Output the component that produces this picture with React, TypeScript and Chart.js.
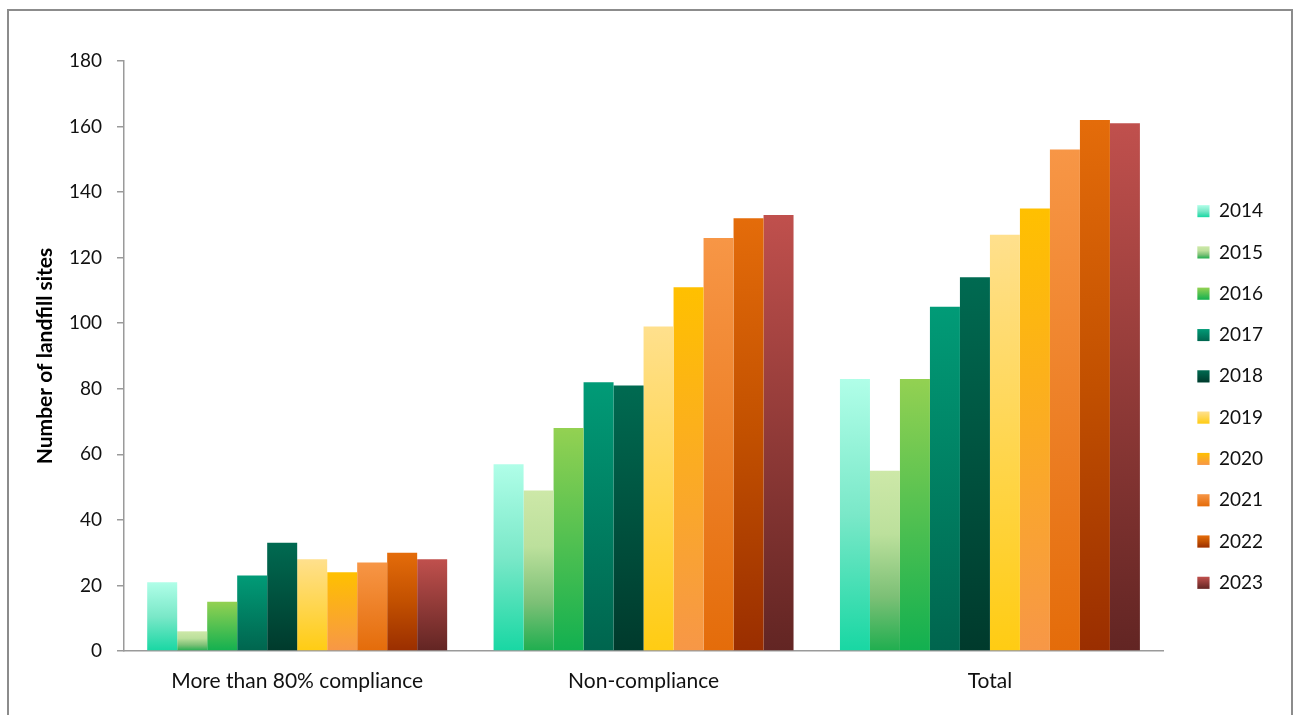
import React, { useEffect, useRef } from "react";
import { Chart, registerables } from "chart.js";

Chart.register(...registerables);

const categories = ["More than 80% compliance", "Non-compliance", "Total"];
const years = ["2014", "2015", "2016", "2017", "2018", "2019", "2020", "2021", "2022", "2023"];
const values2014 = [21, 57, 83];
const values2015 = [6, 49, 55];
const values2016 = [15, 68, 83];
const values2017 = [23, 82, 105];
const values2018 = [33, 81, 114];
const values2019 = [28, 99, 127];
const values2020 = [24, 111, 135];
const values2021 = [27, 126, 153];
const values2022 = [30, 132, 162];
const values2023 = [28, 133, 161];
const seriesValues = [
  values2014, values2015, values2016, values2017, values2018,
  values2019, values2020, values2021, values2022, values2023,
];
const yTickValues = [0, 20, 40, 60, 80, 100, 120, 140, 160, 180];

type Stop = [number, string];
const gradients: Stop[][] = [
  [[0, "#B0FEE8"], [0.5, "#7AE8C8"], [1, "#18D7A3"]],
  [[0, "#CDE8A8"], [0.35, "#BCE09C"], [0.7, "#7CC076"], [1, "#1FAE4F"]],
  [[0, "#93D152"], [1, "#12B050"]],
  [[0, "#019B77"], [1, "#00654E"]],
  [[0, "#006A51"], [1, "#003A2C"]],
  [[0, "#FFE08D"], [1, "#FFCC13"]],
  [[0, "#FFC000"], [1, "#F79747"]],
  [[0, "#F79646"], [1, "#E46C0A"]],
  [[0, "#E46C0A"], [0.5, "#C25000"], [1, "#9A2E00"]],
  [[0, "#C0504D"], [1, "#622523"]],
];

const FONT = "Lato, 'Open Sans', 'DejaVu Sans', sans-serif";
const LEGEND_FONT_SIZE = 19;
const BOX = 12;

const makeBg = (stops: Stop[]) => (ctx: any) => {
  const chart = ctx.chart;
  const y = chart.scales && chart.scales.y;
  if (ctx.type !== "data" || !y) return stops[stops.length - 1][1];
  const top = y.getPixelForValue(ctx.raw);
  const bottom = y.getPixelForValue(0);
  if (!isFinite(top) || !isFinite(bottom) || top === bottom) return stops[0][1];
  const g = chart.ctx.createLinearGradient(0, top, 0, bottom);
  stops.forEach(([o, c]) => g.addColorStop(o, c));
  return g;
};

const legendGradientPlugin = {
  id: "legendGradient",
  afterDraw(chart: any) {
    const legend = chart.legend;
    if (!legend || !legend.legendHitBoxes) return;
    const ctx = chart.ctx;
    ctx.save();
    legend.legendHitBoxes.forEach((hb: any, i: number) => {
      const stops = gradients[i];
      if (!stops) return;
      const top = hb.top + Math.max((LEGEND_FONT_SIZE - BOX) / 2, 0);
      const g = ctx.createLinearGradient(0, top, 0, top + BOX);
      stops.forEach(([o, c]: Stop) => g.addColorStop(o, c));
      ctx.fillStyle = "#ffffff";
      ctx.fillRect(hb.left, top, BOX, BOX);
      ctx.fillStyle = g;
      ctx.fillRect(hb.left, top, BOX, BOX);
    });
    ctx.restore();
  },
};

export default function App() {
  const canvasRef = useRef<HTMLCanvasElement | null>(null);

  useEffect(() => {
    if (!canvasRef.current) return;
    const chart = new Chart(canvasRef.current, {
      type: "bar",
      data: {
        labels: categories,
        datasets: years.map((yr, i) => ({
          label: yr,
          data: seriesValues[i],
          backgroundColor: makeBg(gradients[i]),
          borderWidth: 0,
          categoryPercentage: 0.866,
          barPercentage: 1.0,
        })),
      },
      plugins: [legendGradientPlugin],
      options: {
        animation: false,
        responsive: true,
        maintainAspectRatio: false,
        layout: { padding: { left: 24, top: 50, right: 18, bottom: 14 } },
        plugins: {
          tooltip: { enabled: false },
          legend: {
            position: "right",
            fullSize: false,
            align: "center",
            title: { display: true, text: "", font: { size: 10 }, padding: { top: 70, bottom: 0 } },
            labels: {
              boxWidth: BOX,
              boxHeight: BOX,
              padding: 22.3,
              color: "#111111",
              font: { family: FONT, size: LEGEND_FONT_SIZE },
            },
          },
        },
        scales: {
          x: {
            grid: { display: false, drawTicks: false },
            border: { display: true, color: "#9a9a9a", width: 1.5 },
            ticks: {
              color: "#111111",
              padding: 18,
              font: { family: FONT, size: 21 },
            },
            afterFit: (s: any) => {
              s.height = 50;
            },
          },
          y: {
            min: 0,
            max: 180,
            afterBuildTicks: (scale: any) => {
              scale.ticks = yTickValues.map((v) => ({ value: v }));
            },
            afterFit: (s: any) => {
              s.width = 91;
            },
            grid: {
              display: true,
              drawOnChartArea: false,
              drawTicks: true,
              tickLength: 7,
              color: "#9a9a9a",
              lineWidth: 1.5,
            },
            border: { display: true, color: "#9a9a9a", width: 1.5 },
            ticks: {
              color: "#111111",
              padding: 15,
              font: { family: FONT, size: 19 },
            },
            title: {
              display: true,
              text: "Number of landfill sites",
              color: "#000000",
              padding: { top: 0, bottom: 0 },
              font: { family: FONT, size: 21, weight: "bold" },
            },
          },
          pad: {
            type: "linear",
            position: "right",
            display: true,
            grid: { display: false },
            border: { display: false },
            ticks: { display: false },
            afterFit: (s: any) => {
              s.width = 12;
            },
          },
        },
      } as any,
    });
    return () => chart.destroy();
  }, []);

  return (
    <div
      style={{
        position: "absolute",
        left: 7,
        top: 9,
        width: 1286,
        height: 720,
        boxSizing: "border-box",
        borderTop: "2px solid #8c8c8c",
        borderLeft: "2px solid #8c8c8c",
        borderRight: "2px solid #8c8c8c",
        background: "#ffffff",
        overflow: "hidden",
      }}
    >
      <div style={{ position: "absolute", left: 0, top: 0, width: 1282, height: 704 }}>
        <canvas ref={canvasRef} />
      </div>
    </div>
  );
}
